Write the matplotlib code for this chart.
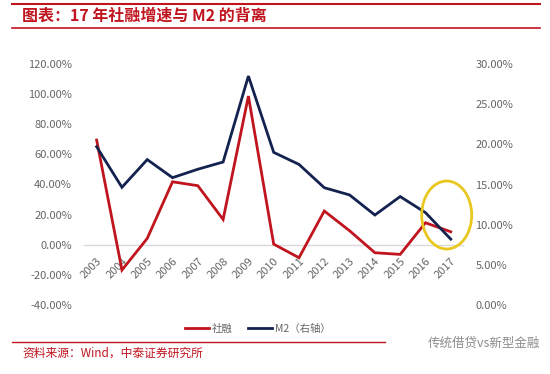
import matplotlib
matplotlib.use("Agg")
import matplotlib.pyplot as plt
from matplotlib.patches import Ellipse
from matplotlib.lines import Line2D

plt.rcParams['font.family'] = ['Noto Sans CJK SC', 'DejaVu Sans']

years = ['2003', '2004', '2005', '2006', '2007', '2008', '2009', '2010',
         '2011', '2012', '2013', '2014', '2015', '2016', '2017']
tsf_growth = [69.5, -16.8, 4.2, 41.8, 39.2, 16.8, 98.7, 0.4,
              -8.6, 22.4, 9.3, -5.3, -6.4, 14.6, 8.6]
m2_growth = [19.7, 14.65, 18.1, 15.85, 16.9, 17.8, 28.5, 19.0,
             17.5, 14.6, 13.7, 11.2, 13.5, 11.5, 8.2]
left_ticks = [-40, -20, 0, 20, 40, 60, 80, 100, 120]
right_ticks = [0, 5, 10, 15, 20, 25, 30]

RED = '#C0141E'
NAVY = '#13224F'
GRAY = '#666666'

fig = plt.figure(figsize=(5.5, 3.74), dpi=100)
ax = fig.add_axes([84/550, 1-305/374, (463.4-84)/550, (305-64)/374])
ax2 = ax.twinx()

x = list(range(len(years)))
ax.plot(x, tsf_growth, color=RED, lw=2.0, solid_joinstyle='miter', zorder=3)
ax2.plot(x, m2_growth, color=NAVY, lw=2.0, solid_joinstyle='miter', zorder=3)

ax.set_xlim(-0.5, len(years) - 0.5)
ax.set_ylim(-40, 120)
ax2.set_ylim(0, 30)
ax.set_yticks(left_ticks)
ax.set_yticklabels([f'{v:.2f}%' for v in left_ticks])
ax2.set_yticks(right_ticks)
ax2.set_yticklabels([f'{v:.2f}%' for v in right_ticks])

for a in (ax, ax2):
    for s in ['top', 'right', 'left', 'bottom']:
        a.spines[s].set_visible(False)
    a.tick_params(axis='y', length=0, labelsize=8, labelcolor=GRAY, pad=8.6)

ax.spines['bottom'].set_visible(True)
ax.spines['bottom'].set_position(('data', 0))
ax.spines['bottom'].set_color('#D9D9D9')
ax.spines['bottom'].set_linewidth(1.0)
ax.set_xticks(x)
ax.set_xticklabels(years, rotation=45, ha='right', rotation_mode='anchor')
ax.tick_params(axis='x', length=0, labelsize=8, labelcolor=GRAY, pad=8)
for lbl in ax.get_xticklabels():
    lbl.set_va('top')

# Yellow highlight ellipse
ell = Ellipse((446.7/550, 1-215/374), 50/550, 68/374, transform=fig.transFigure,
              fill=False, edgecolor='#E8C81E', lw=2.0, zorder=5)
fig.add_artist(ell)

# Title and frame lines
fig.add_artist(Line2D([12/550, 540/550], [1-4/374, 1-4/374], color=RED, lw=1.5,
                      transform=fig.transFigure))
fig.add_artist(Line2D([12/550, 540/550], [1-28/374, 1-28/374], color=RED, lw=1.2,
                      transform=fig.transFigure))
fig.text(22/550, 1-16/374, '图表：17 年社融增速与 M2 的背离', color=RED,
         fontsize=11.5, fontweight='bold', va='center', ha='left')

# Legend
handles = [Line2D([], [], color=RED, lw=2.0), Line2D([], [], color=NAVY, lw=2.0)]
leg = fig.legend(handles, ['社融', 'M2（右轴）'], loc='center',
                 bbox_to_anchor=(258/550, 1-329/374), ncol=2, frameon=False,
                 fontsize=7.5, handlelength=2.3, columnspacing=1.5, handletextpad=0.3)
for t in leg.get_texts():
    t.set_color(GRAY)

# Bottom separator and source
fig.add_artist(Line2D([12/550, 385/550], [1-342/374, 1-342/374], color=RED, lw=1.0,
                      transform=fig.transFigure))
fig.text(22/550, 1-353/374, '资料来源：Wind，中泰证券研究所', color=RED,
         fontsize=8.5, va='center', ha='left')
fig.text(540/550, 1-343/374, '传统借贷vs新型金融', color='#8C8C8C',
         fontsize=9, va='center', ha='right')

fig.savefig('out.png', dpi=100, facecolor='white')
